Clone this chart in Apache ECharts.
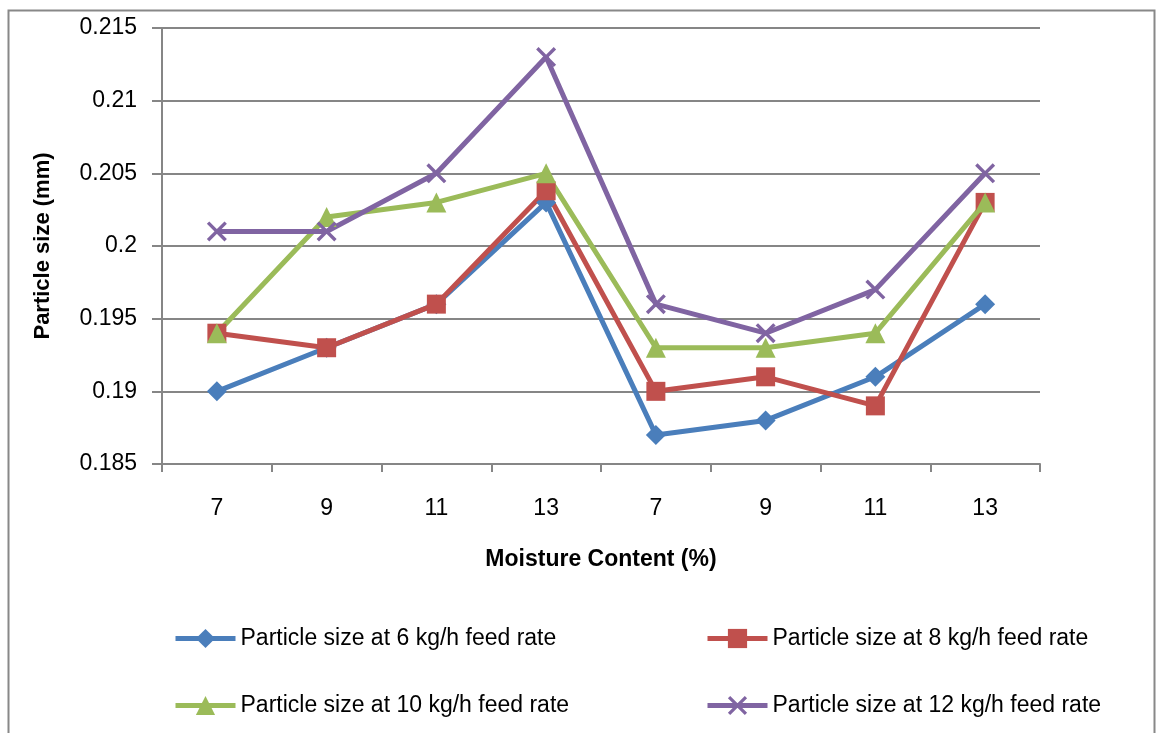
<!DOCTYPE html>
<html>
<head>
<meta charset="utf-8">
<script src="https://cdn.jsdelivr.net/npm/echarts@6/dist/echarts.min.js"></script>
<style>
  html, body { margin: 0; padding: 0; background: #fff; }
  #chart { width: 1157px; height: 733px; }
</style>
</head>
<body>
<div id="chart"></div>
<script>
var categories = ['7', '9', '11', '13', '7', '9', '11', '13'];
var feed6 = [0.190, 0.193, 0.196, 0.203, 0.187, 0.188, 0.191, 0.196];
var feed8 = [0.194, 0.193, 0.196, 0.2038, 0.190, 0.191, 0.189, 0.203];
var feed10 = [0.194, 0.202, 0.203, 0.205, 0.193, 0.193, 0.194, 0.203];
var feed12 = [0.201, 0.201, 0.205, 0.213, 0.196, 0.194, 0.197, 0.205];
var names = [
    'Particle size at 6 kg/h feed rate',
    'Particle size at 8 kg/h feed rate',
    'Particle size at 10 kg/h feed rate',
    'Particle size at 12 kg/h feed rate'
];

var font = 'Liberation Sans';
var crossPath = 'path://M0,1.2L1.2,0L10,8.8L8.8,10ZM8.8,0L10,1.2L1.2,10L0,8.8Z';

var chart = echarts.init(document.getElementById('chart'));

function makeLegend(name, left, top) {
    return {
        data: [name],
        left: left,
        top: top,
        itemWidth: 60,
        itemHeight: 24,
        itemGap: 0,
        lineStyle: {width: 5},
        textStyle: {fontFamily: font, fontSize: 23, color: '#000'}
    };
}

function makeSeries(name, data, color, symbol, size) {
    return {
        name: name,
        type: 'line',
        data: data,
        symbol: symbol,
        symbolSize: size,
        lineStyle: {color: color, width: 5},
        itemStyle: {color: color},
        emphasis: {disabled: true},
        z: 3
    };
}

var option = {
    backgroundColor: '#fff',
    animation: false,
    graphic: [{
        type: 'rect',
        shape: {x: 8.5, y: 10.5, width: 1146, height: 740},
        style: {fill: 'none', stroke: '#888', lineWidth: 2},
        silent: true
    }],
    legend: [
        makeLegend(names[0], 168, 622),
        makeLegend(names[1], 700, 622),
        makeLegend(names[2], 168, 689),
        makeLegend(names[3], 700, 689)
    ],
    grid: {left: 162, right: 117, top: 28, bottom: 269},
    xAxis: {
        type: 'category',
        data: categories,
        boundaryGap: true,
        name: 'Moisture Content (%)',
        nameLocation: 'middle',
        nameGap: 84,
        nameTextStyle: {fontFamily: font, fontSize: 23, fontWeight: 'bold', color: '#000'},
        axisLine: {lineStyle: {color: '#868686', width: 2}},
        axisTick: {show: true, length: 8, lineStyle: {color: '#868686', width: 2}},
        axisLabel: {fontFamily: font, fontSize: 23, color: '#000', margin: 33},
        splitLine: {show: false}
    },
    yAxis: {
        type: 'value',
        min: 0.185,
        max: 0.215,
        interval: 0.005,
        name: 'Particle size (mm)',
        nameLocation: 'middle',
        nameGap: 108,
        nameRotate: 90,
        nameTextStyle: {fontFamily: font, fontSize: 22, fontWeight: 'bold', color: '#000'},
        axisLine: {show: true, lineStyle: {color: '#868686', width: 2}},
        axisTick: {show: true, length: 10, lineStyle: {color: '#868686', width: 2}},
        axisLabel: {
            fontFamily: font, fontSize: 23, color: '#000', margin: 25,
            formatter: function (v) { return String(Math.round(v * 1000) / 1000); }
        },
        splitLine: {lineStyle: {color: '#868686', width: 2}}
    },
    series: [
        makeSeries(names[0], feed6, '#4A7EBB', 'diamond', 20),
        makeSeries(names[1], feed8, '#C0504D', 'rect', 19),
        makeSeries(names[2], feed10, '#9BBB59', 'triangle', 20),
        makeSeries(names[3], feed12, '#8064A2', crossPath, 20)
    ]
};

chart.setOption(option);
</script>
</body>
</html>
